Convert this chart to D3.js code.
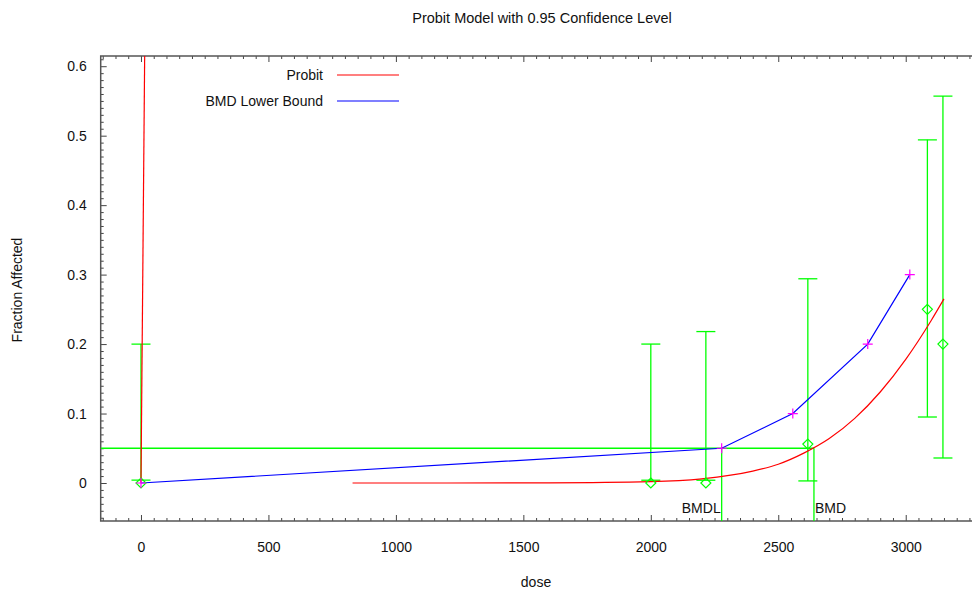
<!DOCTYPE html>
<html>
<head>
<meta charset="utf-8">
<script src="https://cdn.jsdelivr.net/npm/d3@7"></script>
<style>
  html, body { margin: 0; padding: 0; background: #ffffff; }
  svg { display: block; font-family: "Liberation Sans", Arial, sans-serif; }
</style>
</head>
<body>
<svg id="chart" width="972" height="592"></svg>
<script>
// Observed dose groups: fraction affected with 95% confidence limits
const obsDose  = [0, 2000, 2216, 2616, 3085, 3146];
const obsFrac  = [0, 0, 0, 0.056, 0.25, 0.2];
const obsLower = [0.004, 0.004, 0.004, 0.003, 0.095, 0.036];
const obsUpper = [0.2, 0.2, 0.218, 0.294, 0.494, 0.557];

// Fitted probit curve
const probitDose = [830, 1200, 1600, 2000, 2200, 2400, 2500, 2600, 2700, 2800, 2900, 3000, 3100, 3150];
const probitFrac = [0, 0, 0.0003, 0.002, 0.006, 0.017, 0.027, 0.043, 0.064, 0.093, 0.131, 0.178, 0.234, 0.265];

// Steep probit segment near dose 0
const probitZeroDose = [0, 16];
const probitZeroFrac = [0, 0.68];

// BMD lower bound curve
const bmdlDose = [0, 2278, 2557, 2851, 3016];
const bmdlFrac = [0, 0.05, 0.1, 0.2, 0.3];

// Benchmark response and doses
const bmr = 0.05;
const bmdLowerDose = 2278;
const bmdDose = 2640;

const xTicks = [0, 500, 1000, 1500, 2000, 2500, 3000];
const yTicks = [0, 0.1, 0.2, 0.3, 0.4, 0.5, 0.6];
const yTickLabels = ["0", "0.1", "0.2", "0.3", "0.4", "0.5", "0.6"];

const W = 972, H = 592;
const plot = { left: 100.7, right: 972, top: 56, bottom: 521 };

const x = d3.scaleLinear().domain([-158, 3260]).range([plot.left, plot.right]);
const y = d3.scaleLinear().domain([-0.0547, 0.6147]).range([plot.bottom, plot.top]);

const svg = d3.select("#chart");

svg.append("defs").append("clipPath").attr("id", "plotClip")
  .append("rect")
  .attr("x", plot.left).attr("y", plot.top)
  .attr("width", plot.right - plot.left).attr("height", plot.bottom - plot.top);

const GREEN = "#00ff00", RED = "#ff0000", BLUE = "#0000ff", MAGENTA = "#ff00ff";
const AXIS = "#444444";

// Minor ticks
const xMinor = d3.range(-150, 3260, 50).filter(v => v % 500 !== 0);
const yMinor = d3.range(-50, 615, 10).map(v => v / 1000).filter(v => Math.round(v * 1000) % 100 !== 0);

function styleAxis(g) {
  g.select(".domain").remove();
  g.selectAll(".tick line").attr("stroke", AXIS).attr("stroke-width", 1);
  g.selectAll(".tick text").attr("fill", "#111").attr("font-size", 14)
    .attr("font-family", "Liberation Sans, Arial, sans-serif");
}

// bottom axis
svg.append("g").attr("transform", `translate(0,${plot.bottom})`)
  .call(d3.axisBottom(x).tickValues(xMinor).tickSize(-3).tickFormat(""))
  .call(styleAxis);
svg.append("g").attr("transform", `translate(0,${plot.bottom})`)
  .call(d3.axisBottom(x).tickValues(xTicks).tickSize(-6).tickPadding(21).tickFormat(d3.format("d")))
  .call(styleAxis);

// top axis (ticks only)
svg.append("g").attr("transform", `translate(0,${plot.top})`)
  .call(d3.axisTop(x).tickValues(xMinor).tickSize(-3).tickFormat(""))
  .call(styleAxis);
svg.append("g").attr("transform", `translate(0,${plot.top})`)
  .call(d3.axisTop(x).tickValues(xTicks).tickSize(-6).tickFormat(""))
  .call(styleAxis);

// left axis
svg.append("g").attr("transform", `translate(${plot.left},0)`)
  .call(d3.axisLeft(y).tickValues(yMinor).tickSize(-3).tickFormat(""))
  .call(styleAxis);
svg.append("g").attr("transform", `translate(${plot.left},0)`)
  .call(d3.axisLeft(y).tickValues(yTicks).tickSize(-6).tickPadding(14)
    .tickFormat((d, i) => yTickLabels[i]))
  .call(styleAxis);

// frame: top, left, bottom
svg.append("path")
  .attr("d", `M${plot.right},${plot.top}H${plot.left}V${plot.bottom}H${plot.right}`)
  .attr("fill", "none").attr("stroke", "#555").attr("stroke-width", 1.5);

const area = svg.append("g").attr("clip-path", "url(#plotClip)");

const line = (xs, ys, curve) => d3.line()
  .x((d, i) => x(xs[i])).y((d, i) => y(ys[i]))
  .curve(curve || d3.curveLinear)(xs);

// BMR reference lines
area.append("line")
  .attr("x1", plot.left).attr("x2", x(bmdDose))
  .attr("y1", y(bmr)).attr("y2", y(bmr))
  .attr("stroke", GREEN).attr("stroke-width", 1.3);
[bmdLowerDose, bmdDose].forEach(d => {
  area.append("line")
    .attr("x1", x(d)).attr("x2", x(d))
    .attr("y1", y(bmr)).attr("y2", plot.bottom)
    .attr("stroke", GREEN).attr("stroke-width", 1.3);
});

// error bars
const capHalf = 9.5;
obsDose.forEach((d, i) => {
  const g = area.append("g").attr("stroke", GREEN).attr("stroke-width", 1.3).attr("fill", "none");
  g.append("line").attr("x1", x(d)).attr("x2", x(d)).attr("y1", y(obsLower[i])).attr("y2", y(obsUpper[i]));
  g.append("line").attr("x1", x(d) - capHalf).attr("x2", x(d) + capHalf).attr("y1", y(obsLower[i])).attr("y2", y(obsLower[i]));
  g.append("line").attr("x1", x(d) - capHalf).attr("x2", x(d) + capHalf).attr("y1", y(obsUpper[i])).attr("y2", y(obsUpper[i]));
});

// probit curves
area.append("path").attr("d", line(probitDose, probitFrac, d3.curveMonotoneX))
  .attr("fill", "none").attr("stroke", RED).attr("stroke-width", 1.2);
area.append("path").attr("d", line(probitZeroDose, probitZeroFrac))
  .attr("fill", "none").attr("stroke", RED).attr("stroke-width", 1.2);

// BMD lower bound curve
area.append("path").attr("d", line(bmdlDose, bmdlFrac))
  .attr("fill", "none").attr("stroke", BLUE).attr("stroke-width", 1.2);

// observed means (diamonds)
const dh = 5;
obsDose.forEach((d, i) => {
  const cx = x(d), cy = y(obsFrac[i]);
  area.append("path")
    .attr("d", `M${cx},${cy - dh}L${cx + dh},${cy}L${cx},${cy + dh}L${cx - dh},${cy}Z`)
    .attr("fill", "none").attr("stroke", GREEN).attr("stroke-width", 1.2);
});

// BMDL points (plus markers)
const ph = 5;
bmdlDose.forEach((d, i) => {
  const cx = x(d), cy = y(bmdlFrac[i]);
  area.append("path")
    .attr("d", `M${cx - ph},${cy}H${cx + ph}M${cx},${cy - ph}V${cy + ph}`)
    .attr("stroke", MAGENTA).attr("stroke-width", 1.2);
});

// BMDL / BMD labels
svg.append("text").attr("x", x(bmdLowerDose) - 1).attr("y", 513)
  .attr("text-anchor", "end").attr("font-size", 14).attr("fill", "#111").text("BMDL");
svg.append("text").attr("x", x(bmdDose) + 1).attr("y", 513)
  .attr("text-anchor", "start").attr("font-size", 14).attr("fill", "#111").text("BMD");

// legend
const legend = [
  { label: "Probit", color: RED },
  { label: "BMD Lower Bound", color: BLUE }
];
legend.forEach((l, i) => {
  const ly = 75 + i * 26;
  svg.append("text").attr("x", 323).attr("y", ly + 5)
    .attr("text-anchor", "end").attr("font-size", 14).attr("fill", "#111").text(l.label);
  svg.append("line").attr("x1", 337).attr("x2", 399).attr("y1", ly).attr("y2", ly)
    .attr("stroke", l.color).attr("stroke-width", 1.2);
});

// title and axis titles
svg.append("text").attr("x", 542).attr("y", 23).attr("text-anchor", "middle")
  .attr("font-size", 14.5).attr("fill", "#111").text("Probit Model with 0.95 Confidence Level");
svg.append("text").attr("x", 536).attr("y", 587).attr("text-anchor", "middle")
  .attr("font-size", 14).attr("fill", "#111").text("dose");
svg.append("text").attr("transform", "translate(22,290) rotate(-90)").attr("text-anchor", "middle")
  .attr("font-size", 14).attr("fill", "#111").text("Fraction Affected");
</script>
</body>
</html>
